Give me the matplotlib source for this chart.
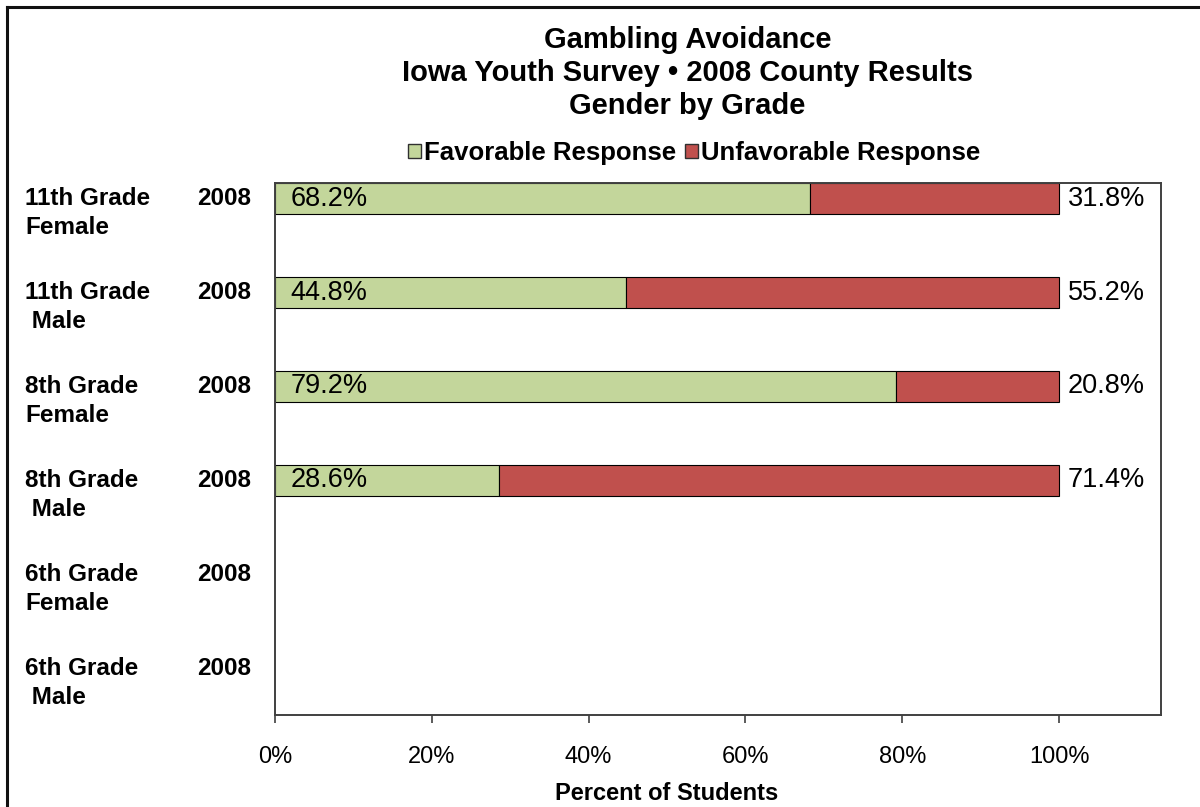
import matplotlib
matplotlib.use("Agg")
import matplotlib.pyplot as plt
from matplotlib.patches import Patch
from matplotlib.lines import Line2D
from matplotlib.transforms import blended_transform_factory

plt.rcParams['font.family'] = ['Liberation Sans', 'DejaVu Sans']

# data
grades = ['11th Grade', '11th Grade', '8th Grade', '8th Grade', '6th Grade', '6th Grade']
genders = ['Female', ' Male', 'Female', ' Male', 'Female', ' Male']
years = ['2008'] * 6
favorable = [68.2, 44.8, 79.2, 28.6, None, None]
unfavorable = [31.8, 55.2, 20.8, 71.4, None, None]
ticks = [0, 20, 40, 60, 80, 100]

green = '#C3D69B'
red = '#C0504D'

fig = plt.figure(figsize=(12, 8.07), dpi=100)
ax = fig.add_axes([275 / 1200, 1 - 715 / 807, (1161 - 275) / 1200, (715 - 183) / 807])

bar_h = 0.33
for i, (f, u) in enumerate(zip(favorable, unfavorable)):
    if f is None:
        continue
    ax.barh(i, f, height=bar_h, color=green, edgecolor='black', linewidth=0.8)
    ax.barh(i, u, left=f, height=bar_h, color=red, edgecolor='black', linewidth=0.8)
    ax.text(2, i, f'{f:.1f}%', va='center', ha='left', fontsize=19.5)
    ax.text(101.1, i, f'{u:.1f}%', va='center', ha='left', fontsize=19.5)

ax.set_xlim(0, 113)
ax.set_ylim(5.495, -0.165)
ax.set_xticks(ticks)
ax.set_xticklabels([f'{t}%' for t in ticks], fontsize=17)
ax.tick_params(axis='x', length=6, width=1.2, color='#404040', pad=16)
ax.set_yticks([])
for s in ax.spines.values():
    s.set_color('#404040')
    s.set_linewidth(1.4)

# row labels
tr = blended_transform_factory(fig.transFigure, ax.transData)
for i in range(len(grades)):
    ax.text(25 / 1200, i, grades[i], transform=tr, fontsize=17.5, fontweight='bold',
            ha='left', va='center')
    ax.text(25 / 1200, i + 0.31, genders[i], transform=tr, fontsize=17.5, fontweight='bold',
            ha='left', va='center')
    ax.text(251 / 1200, i, years[i], transform=tr, fontsize=17.5, fontweight='bold',
            ha='right', va='center')

# x label centered on the 0-100% range
trx = blended_transform_factory(ax.transData, fig.transFigure)
ax.text(50, 1 - 793 / 807, 'Percent of Students', transform=trx, fontsize=17,
        fontweight='bold', ha='center', va='center')

# titles
for k, line in enumerate(['Gambling Avoidance',
                          'Iowa Youth Survey \u2022 2008 County Results',
                          'Gender by Grade']):
    fig.text(0.573, 1 - (40 + 33 * k) / 807, line, fontsize=21, fontweight='bold',
             ha='center', va='center')

handles = [Patch(facecolor=green, edgecolor='#303030', linewidth=1.0),
           Patch(facecolor=red, edgecolor='#303030', linewidth=1.0)]
fig.legend(handles, ['Favorable Response', 'Unfavorable Response'], ncol=2,
           loc='center', bbox_to_anchor=(694 / 1200, 1 - 153 / 807), frameon=False,
           prop={'size': 18.5, 'weight': 'bold'}, handlelength=0.5, handleheight=0.5,
           handletextpad=0.12, columnspacing=0.35, borderpad=0)

# outer frame (cut off at right and bottom)
fig.add_artist(Line2D([7 / 1200, 7 / 1200], [0, 1 - 7 / 807], transform=fig.transFigure,
                      color='#111111', linewidth=2.2))
fig.add_artist(Line2D([7 / 1200, 1], [1 - 7 / 807, 1 - 7 / 807], transform=fig.transFigure,
                      color='#111111', linewidth=2.2))

fig.savefig('out.png', dpi=100, facecolor='white')
